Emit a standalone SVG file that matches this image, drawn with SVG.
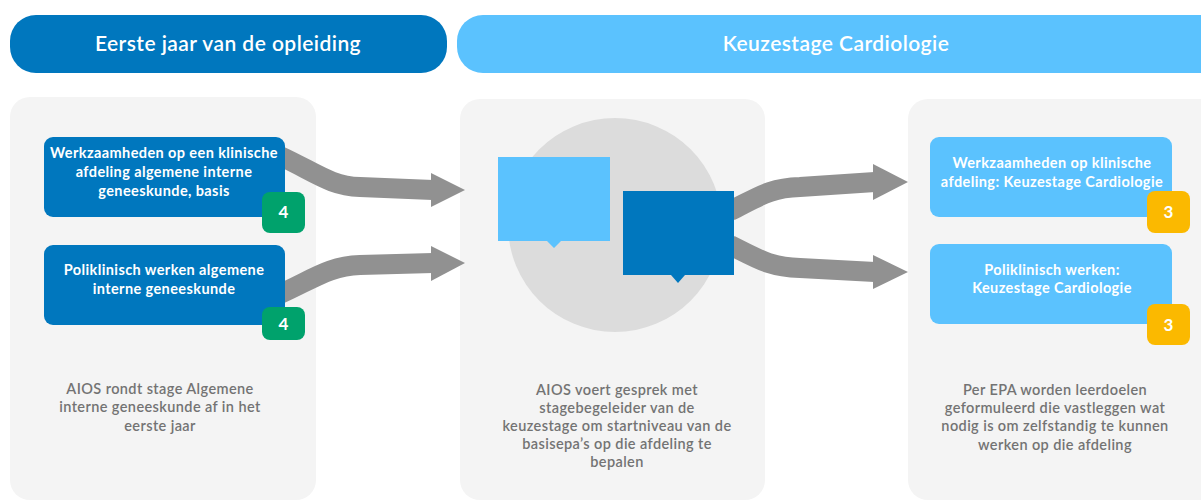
<svg xmlns="http://www.w3.org/2000/svg" width="1201" height="502" viewBox="0 0 1201 502">
<style>
.hdr{font-family:Lato,"Liberation Sans",sans-serif;font-size:21px;font-weight:600;letter-spacing:0.45px;fill:#fff;text-anchor:middle}
.bt{font-family:Lato,"Liberation Sans",sans-serif;font-size:14.5px;font-weight:700;letter-spacing:0.4px;fill:#fff;text-anchor:middle}
.cap{font-family:Lato,"Liberation Sans",sans-serif;font-size:14.5px;font-weight:600;letter-spacing:0.4px;fill:#737373;text-anchor:middle}
.badge{font-family:Lato,"Liberation Sans",sans-serif;font-size:17px;font-weight:700;fill:#fff;text-anchor:middle}
.panel{fill:#f4f4f4}
.dark{fill:#0077be}
.light{fill:#5bc2fe}
.green{fill:#00a26c}
.yellow{fill:#fbb900}
.shaft{fill:none;stroke:#919191;stroke-width:20}
.head{fill:#919191}
</style>
<g id="header-left"><rect x="10" y="15" width="437" height="58" rx="26" class="dark"/><text x="228" y="51" class="hdr">Eerste jaar van de opleiding</text></g>
<g id="header-right"><rect x="457" y="15" width="770" height="58" rx="26" class="light"/><text x="836" y="51" class="hdr">Keuzestage Cardiologie</text></g>
<g id="panel-left"><rect x="10" y="97" width="306" height="403" rx="20" class="panel"/>
<text class="cap"><tspan x="160" y="394">AIOS rondt stage Algemene</tspan><tspan x="160" y="412">interne geneeskunde af in het</tspan><tspan x="160" y="431">eerste jaar</tspan></text></g>
<g id="panel-mid"><rect x="460" y="99" width="305" height="401" rx="20" class="panel"/>
<circle cx="615" cy="225" r="107" fill="#dcdcdc"/>
<text class="cap"><tspan x="617" y="395">AIOS voert gesprek met</tspan><tspan x="617" y="413">stagebegeleider van de</tspan><tspan x="617" y="431">keuzestage om startniveau van de</tspan><tspan x="617" y="449">basisepa’s op die afdeling te</tspan><tspan x="617" y="467">bepalen</tspan></text></g>
<g id="panel-right"><rect x="908" y="99" width="320" height="401" rx="20" class="panel"/>
<text class="cap"><tspan x="1055" y="395">Per EPA worden leerdoelen</tspan><tspan x="1055" y="413">geformuleerd die vastleggen wat</tspan><tspan x="1055" y="431">nodig is om zelfstandig te kunnen</tspan><tspan x="1055" y="450">werken op die afdeling</tspan></text></g>
<g id="connectors">
<path class="shaft" d="M280,156 C315,172 330,186 360,187 L433,190"/><polygon class="head" points="431,173 465,190 431,207"/>
<path class="shaft" d="M280,294 C315,278 330,266 360,265 L433,263"/><polygon class="head" points="431,246 465,263 431,281"/>
<path class="shaft" d="M730,211 C760,196 770,188 800,187 L875,182"/><polygon class="head" points="873,164 908,182 873,200"/>
<path class="shaft" d="M730,245 C760,260 770,267 800,268 L875,272"/><polygon class="head" points="873,255 908,272 873,289"/>
</g>
<g id="bubble-light"><path class="light" d="M498,157 H610 V241 H561 L554,248 L547,241 H498 Z"/></g>
<g id="bubble-dark"><path class="dark" d="M623,191 H734 V275 H685 L678,283 L671,275 H623 Z"/></g>
<g id="box-klinisch-basis"><rect x="44" y="137" width="241" height="80" rx="9" class="dark"/>
<text class="bt"><tspan x="164" y="158">Werkzaamheden op een klinische</tspan><tspan x="164" y="177">afdeling algemene interne</tspan><tspan x="164" y="196">geneeskunde, basis</tspan></text>
<rect x="262" y="192" width="43" height="41" rx="8" class="green"/><text x="283.5" y="218" class="badge">4</text></g>
<g id="box-poli-basis"><rect x="44" y="245" width="241" height="80" rx="9" class="dark"/>
<text class="bt"><tspan x="164" y="275">Poliklinisch werken algemene</tspan><tspan x="164" y="294">interne geneeskunde</tspan></text>
<rect x="262" y="307" width="43" height="33" rx="8" class="green"/><text x="283.5" y="330" class="badge">4</text></g>
<g id="box-klinisch-cardio"><rect x="930" y="137" width="242" height="80" rx="9" class="light"/>
<text class="bt"><tspan x="1052" y="168">Werkzaamheden op klinische</tspan><tspan x="1052" y="187">afdeling: Keuzestage Cardiologie</tspan></text>
<rect x="1147" y="191" width="43" height="42" rx="8" class="yellow"/><text x="1168.5" y="218" class="badge">3</text></g>
<g id="box-poli-cardio"><rect x="930" y="244" width="242" height="80" rx="9" class="light"/>
<text class="bt"><tspan x="1052" y="275">Poliklinisch werken:</tspan><tspan x="1052" y="293">Keuzestage Cardiologie</tspan></text>
<rect x="1147" y="304" width="43" height="41" rx="8" class="yellow"/><text x="1168.5" y="331" class="badge">3</text></g>
</svg>
